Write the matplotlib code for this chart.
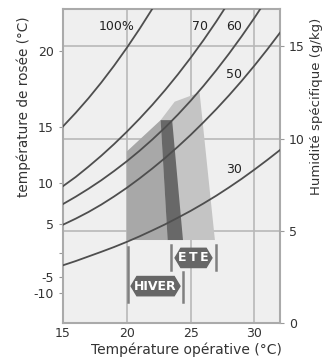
import matplotlib
matplotlib.use('Agg')
import matplotlib.pyplot as plt
from matplotlib.path import Path

# temperature grid (°C) and specific humidity (g/kg)
temp = [15, 16, 17, 18, 19, 20, 21, 22, 23, 24, 25, 26, 27, 28, 29, 30, 31, 32]
rh100 = [10.66, 11.4, 12.19, 13.04, 13.95, 14.92, 15.95, 17.04, 18.2]
rh70 = [7.42, 7.92, 8.48, 9.07, 9.70, 10.37, 11.08, 11.83, 12.63, 13.48, 14.38,
        15.33, 16.34, 17.41]
rh60 = [6.45, 6.85, 7.28, 7.74, 8.24, 8.77, 9.34, 9.95, 10.6, 11.3, 12.05,
        12.85, 13.7, 14.6, 15.55, 16.55, 17.6]
rh50 = [5.33, 5.66, 6.02, 6.42, 6.86, 7.33, 7.84, 8.38, 8.95, 9.56, 10.2, 10.88,
        11.59, 12.34, 13.13, 13.96, 14.83, 15.74]
rh30 = [3.13, 3.36, 3.61, 3.86, 4.12, 4.40, 4.70, 5.02, 5.35, 5.71, 6.08, 6.48,
        6.9, 7.35, 7.82, 8.32, 8.84, 9.38]
curve_labels = ['100%', '70', '60', '50', '30']

# comfort zones (temperature, specific humidity)
hiver_t = [20.0, 20.0, 22.65, 23.55, 24.4]
hiver_w = [4.5, 9.3, 11.0, 11.0, 4.5]
ete_t = [22.65, 23.75, 25.7, 26.9, 23.2]
ete_w = [11.0, 12.0, 12.5, 4.5, 4.5]
both_t = [22.65, 23.55, 24.4, 23.2]
both_w = [11.0, 11.0, 4.5, 4.5]

# dew point ticks on the left axis
dew_pos = [14.73, 10.65, 7.6, 5.38, 3.8, 2.5, 1.63]
dew_lab = ['20', '15', '10', '5', '', '-5', '-10']

plt.rcParams['font.family'] = 'DejaVu Sans'
txt = '#333333'


def hexbox(x0, y0, width, height, mutation_size):
    # label box with pointed ends
    pad = 0.25 * mutation_size
    x0, y0 = x0 - pad, y0 - pad
    width, height = width + 2 * pad, height + 2 * pad
    d = height * 0.3
    verts = [(x0, y0 + height / 2), (x0 + d, y0), (x0 + width - d, y0),
             (x0 + width, y0 + height / 2), (x0 + width - d, y0 + height),
             (x0 + d, y0 + height), (x0, y0 + height / 2)]
    return Path(verts, closed=True)


fig = plt.figure(figsize=(3.24, 3.62), dpi=100)
ax = fig.add_axes([0.1944, 0.1077, 0.6698, 0.8661])
ax.set_facecolor('#efefef')

ax.fill(hiver_t, hiver_w, color='#a8a8a8', lw=0, zorder=2)
ax.fill(ete_t, ete_w, color='#c4c4c4', lw=0, zorder=2)
ax.fill(both_t, both_w, color='#686868', lw=0, zorder=3)

for w in [rh100, rh70, rh60, rh50, rh30]:
    ax.plot(temp[:len(w)], w, color='#4e4e4e', lw=1.3, zorder=4)

lab_pos = [(19.2, 16.1), (25.7, 16.1), (28.4, 16.1), (28.4, 13.5), (28.4, 8.3)]
for s, (x, y) in zip(curve_labels, lab_pos):
    ax.text(x, y, s, ha='center', va='center', fontsize=9, color='#222222',
            zorder=5)

ax.set_xlim(15, 32)
ax.set_ylim(0, 17)
ax.set_xticks([15, 20, 25, 30])
ax.set_yticks([0, 5, 10, 15])
ax.grid(True, color='#b8b8b8', lw=1.2, zorder=1)
ax.set_axisbelow(True)
ax.yaxis.tick_right()
ax.yaxis.set_label_position('right')
ax.tick_params(labelsize=9, labelcolor=txt, color='#999999', length=3)
ax.tick_params(axis='x', length=0, pad=3)
for sp in ax.spines.values():
    sp.set_color('#aaaaaa')
    sp.set_linewidth(1.5)

sec = ax.secondary_yaxis('left')
sec.set_yticks(dew_pos, labels=dew_lab)
sec.tick_params(labelsize=9, labelcolor=txt, color='#999999', length=3)
sec.spines['left'].set_visible(False)
sec.set_ylabel('température de rosée (°C)', fontsize=9.8, color=txt,
               labelpad=2, y=0.69)

ax.set_ylabel('Humidité spécifique (g/kg)', fontsize=9.5, color=txt,
              labelpad=4, y=0.69)
ax.set_xlabel('Température opérative (°C)', fontsize=10, color=txt,
              labelpad=2, x=0.57)


# season brackets
def bracket(t0, t1, l0, l1, ylab, s):
    ax.plot([t0, t0], l0, color='#808080', lw=1.8, clip_on=False, zorder=5)
    ax.plot([t1, t1], l1, color='#808080', lw=1.8, clip_on=False, zorder=5)
    ax.text((t0 + t1) / 2, ylab, s, ha='center', va='center', fontsize=9,
            fontweight='bold', color='white', zorder=6,
            bbox=dict(boxstyle=hexbox, fc='#666666', ec='#666666'))


bracket(23.45, 27.0, [2.88, 4.24], [2.88, 4.24], 3.53, 'E\u2009T\u2009E')
bracket(20.1, 24.4, [1.14, 4.13], [1.14, 2.77], 2.0, 'HIVER')

fig.savefig('out.png', dpi=100)
